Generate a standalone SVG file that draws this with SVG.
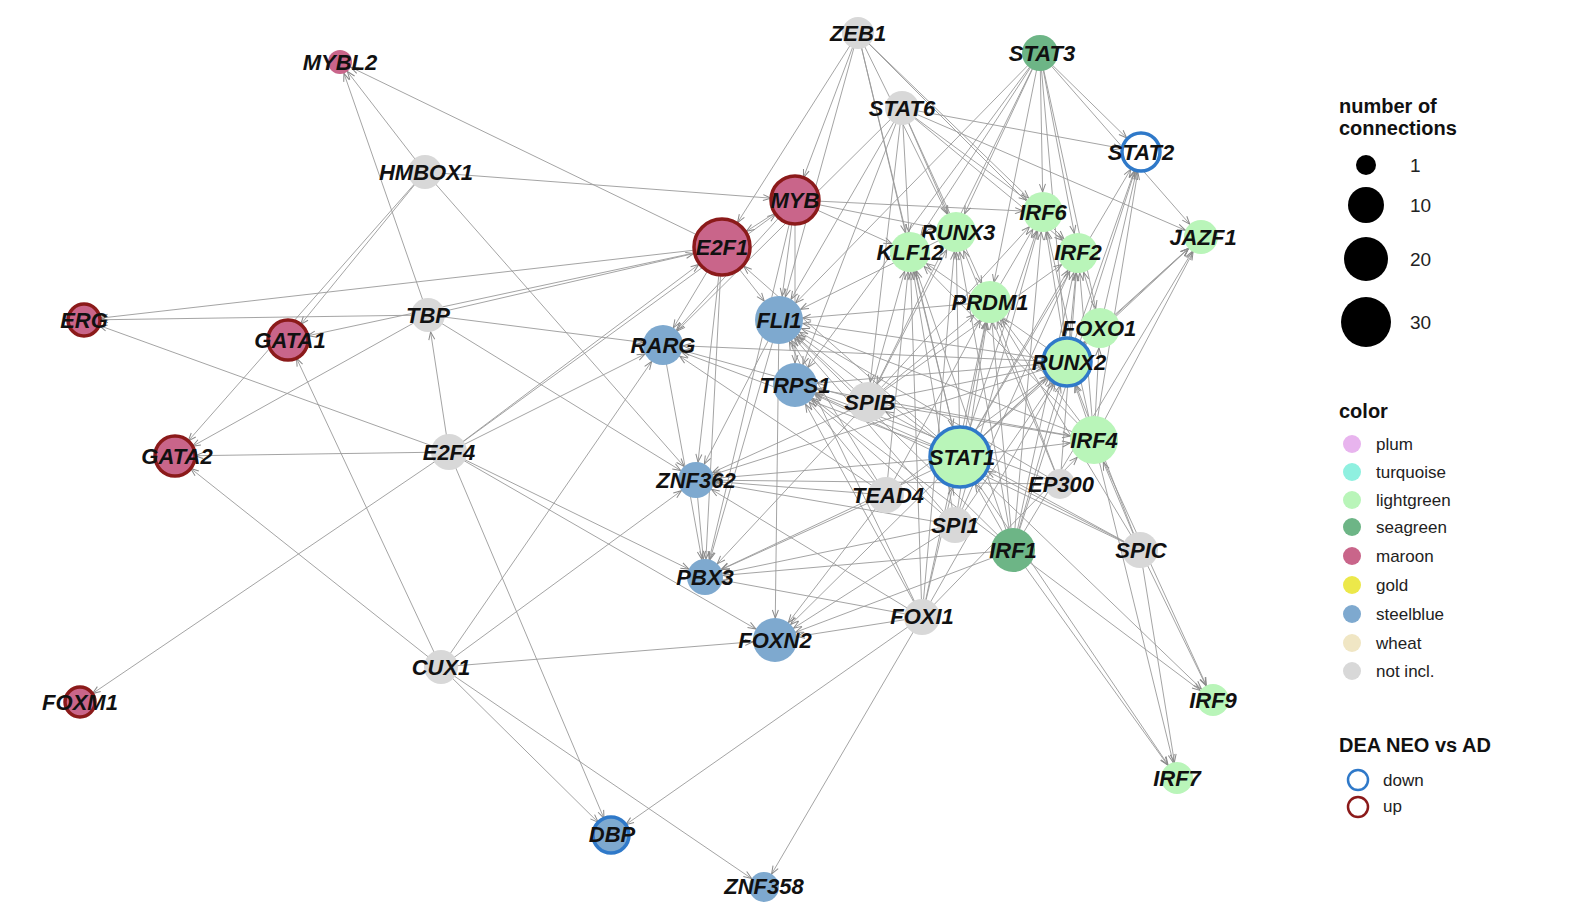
<svg xmlns="http://www.w3.org/2000/svg" width="1589" height="919" viewBox="0 0 1589 919">
<style>
.bg{fill:#fff}
#edges line{stroke:#9a9a9a;stroke-width:0.9;fill:none}
.ah{fill:none;stroke:#8a8a8a;stroke-width:1}
.lab{font-family:"Liberation Sans",Arial,sans-serif;font-weight:bold;font-style:italic;font-size:22px;fill:#111;text-anchor:middle;dominant-baseline:central}
.lg{font-family:"Liberation Sans",Arial,sans-serif;fill:#222}
.lgt{font-family:"Liberation Sans",Arial,sans-serif;font-weight:bold;fill:#111;font-size:20px}
.lgr{fill:#b9f5b9}.sea{fill:#6db586}.mar{fill:#c9658a}.stb{fill:#7ea9cf}.gry{fill:#d8d8d8}
.dn{fill:none;stroke:#2f79c9;stroke-width:3.5}
.up{fill:none;stroke:#8b1a1a;stroke-width:3.5}
</style>
<defs>
<marker id="m12" markerUnits="userSpaceOnUse" refX="12" refY="0" markerWidth="1" markerHeight="1" overflow="visible" orient="auto"><path class="ah" d="M-8,-3 L0,0 L-8,3"/></marker>
<marker id="m15" markerUnits="userSpaceOnUse" refX="15" refY="0" markerWidth="1" markerHeight="1" overflow="visible" orient="auto"><path class="ah" d="M-8,-3 L0,0 L-8,3"/></marker>
<marker id="m16" markerUnits="userSpaceOnUse" refX="16" refY="0" markerWidth="1" markerHeight="1" overflow="visible" orient="auto"><path class="ah" d="M-8,-3 L0,0 L-8,3"/></marker>
<marker id="m17" markerUnits="userSpaceOnUse" refX="17" refY="0" markerWidth="1" markerHeight="1" overflow="visible" orient="auto"><path class="ah" d="M-8,-3 L0,0 L-8,3"/></marker>
<marker id="m18" markerUnits="userSpaceOnUse" refX="18" refY="0" markerWidth="1" markerHeight="1" overflow="visible" orient="auto"><path class="ah" d="M-8,-3 L0,0 L-8,3"/></marker>
<marker id="m20" markerUnits="userSpaceOnUse" refX="20" refY="0" markerWidth="1" markerHeight="1" overflow="visible" orient="auto"><path class="ah" d="M-8,-3 L0,0 L-8,3"/></marker>
<marker id="m22" markerUnits="userSpaceOnUse" refX="22" refY="0" markerWidth="1" markerHeight="1" overflow="visible" orient="auto"><path class="ah" d="M-8,-3 L0,0 L-8,3"/></marker>
<marker id="m24" markerUnits="userSpaceOnUse" refX="24" refY="0" markerWidth="1" markerHeight="1" overflow="visible" orient="auto"><path class="ah" d="M-8,-3 L0,0 L-8,3"/></marker>
<marker id="m28" markerUnits="userSpaceOnUse" refX="29" refY="0" markerWidth="1" markerHeight="1" overflow="visible" orient="auto"><path class="ah" d="M-8,-3 L0,0 L-8,3"/></marker>
<marker id="m30" markerUnits="userSpaceOnUse" refX="31" refY="0" markerWidth="1" markerHeight="1" overflow="visible" orient="auto"><path class="ah" d="M-8,-3 L0,0 L-8,3"/></marker>
</defs>
<rect class="bg" x="0" y="0" width="1589" height="919"/>
<g id="edges">
<!-- HMBOX1 -->
<line x1="425" y1="172" x2="340" y2="62" marker-end="url(#m12)"/>
<line x1="425" y1="172" x2="288" y2="340" marker-end="url(#m20)"/>
<line x1="425" y1="172" x2="795" y2="200" marker-end="url(#m24)"/>
<line x1="425" y1="172" x2="696" y2="480" marker-end="url(#m18)"/>
<line x1="425" y1="172" x2="175" y2="456" marker-end="url(#m20)"/>
<!-- TBP -->
<line x1="428" y1="315" x2="340" y2="62" marker-end="url(#m12)"/>
<line x1="428" y1="315" x2="84" y2="320" marker-end="url(#m16)"/>
<line x1="428" y1="315" x2="175" y2="456" marker-end="url(#m20)"/>
<line x1="428" y1="315" x2="722" y2="247" marker-end="url(#m28)"/>
<line x1="428" y1="315" x2="696" y2="480" marker-end="url(#m18)"/>
<line x1="428" y1="315" x2="663" y2="345" marker-end="url(#m20)"/>
<!-- E2F4 -->
<line x1="449" y1="452" x2="175" y2="456" marker-end="url(#m20)"/>
<line x1="449" y1="452" x2="80" y2="702" marker-end="url(#m15)"/>
<line x1="449" y1="452" x2="722" y2="247" marker-end="url(#m28)"/>
<line x1="449" y1="452" x2="795" y2="200" marker-end="url(#m24)"/>
<line x1="449" y1="452" x2="428" y2="315" marker-end="url(#m17)"/>
<line x1="449" y1="452" x2="705" y2="577" marker-end="url(#m18)"/>
<line x1="449" y1="452" x2="775" y2="640" marker-end="url(#m22)"/>
<line x1="449" y1="452" x2="611" y2="835" marker-end="url(#m18)"/>
<line x1="449" y1="452" x2="663" y2="345" marker-end="url(#m20)"/>
<line x1="449" y1="452" x2="84" y2="320" marker-end="url(#m16)"/>
<!-- CUX1 -->
<line x1="441" y1="667" x2="175" y2="456" marker-end="url(#m20)"/>
<line x1="441" y1="667" x2="288" y2="340" marker-end="url(#m20)"/>
<line x1="441" y1="667" x2="663" y2="345" marker-end="url(#m20)"/>
<line x1="441" y1="667" x2="696" y2="480" marker-end="url(#m18)"/>
<line x1="441" y1="667" x2="775" y2="640" marker-end="url(#m22)"/>
<line x1="441" y1="667" x2="611" y2="835" marker-end="url(#m18)"/>
<line x1="441" y1="667" x2="764" y2="887" marker-end="url(#m15)"/>
<!-- E2F1 -->
<line x1="722" y1="247" x2="340" y2="62" marker-end="url(#m12)"/>
<line x1="722" y1="247" x2="84" y2="320" marker-end="url(#m16)"/>
<line x1="722" y1="247" x2="288" y2="340" marker-end="url(#m20)"/>
<line x1="722" y1="247" x2="663" y2="345" marker-end="url(#m20)"/>
<line x1="722" y1="247" x2="705" y2="577" marker-end="url(#m18)"/>
<line x1="722" y1="247" x2="696" y2="480" marker-end="url(#m18)"/>
<line x1="722" y1="247" x2="779" y2="320" marker-end="url(#m24)"/>
<!-- MYB -->
<line x1="795" y1="200" x2="722" y2="247" marker-end="url(#m28)"/>
<line x1="795" y1="200" x2="779" y2="320" marker-end="url(#m24)"/>
<line x1="795" y1="200" x2="663" y2="345" marker-end="url(#m20)"/>
<line x1="795" y1="200" x2="910" y2="252" marker-end="url(#m20)"/>
<line x1="795" y1="200" x2="956" y2="232" marker-end="url(#m20)"/>
<line x1="795" y1="200" x2="705" y2="577" marker-end="url(#m18)"/>
<line x1="795" y1="200" x2="1043" y2="212" marker-end="url(#m20)"/>
<line x1="795" y1="200" x2="795" y2="385" marker-end="url(#m22)"/>
<!-- ZEB1 -->
<line x1="858" y1="33" x2="795" y2="200" marker-end="url(#m24)"/>
<line x1="858" y1="33" x2="779" y2="320" marker-end="url(#m24)"/>
<line x1="858" y1="33" x2="956" y2="232" marker-end="url(#m20)"/>
<line x1="858" y1="33" x2="1043" y2="212" marker-end="url(#m20)"/>
<line x1="858" y1="33" x2="910" y2="252" marker-end="url(#m20)"/>
<line x1="858" y1="33" x2="1078" y2="253" marker-end="url(#m20)"/>
<line x1="858" y1="33" x2="960" y2="457" marker-end="url(#m30)"/>
<line x1="858" y1="33" x2="722" y2="247" marker-end="url(#m28)"/>
<!-- STAT3 -->
<line x1="1040" y1="53" x2="779" y2="320" marker-end="url(#m24)"/>
<line x1="1040" y1="53" x2="910" y2="252" marker-end="url(#m20)"/>
<line x1="1040" y1="53" x2="956" y2="232" marker-end="url(#m20)"/>
<line x1="1040" y1="53" x2="1043" y2="212" marker-end="url(#m20)"/>
<line x1="1040" y1="53" x2="1078" y2="253" marker-end="url(#m20)"/>
<line x1="1040" y1="53" x2="1141" y2="152" marker-end="url(#m20)"/>
<line x1="1040" y1="53" x2="1201" y2="237" marker-end="url(#m17)"/>
<line x1="1040" y1="53" x2="1100" y2="328" marker-end="url(#m20)"/>
<line x1="1040" y1="53" x2="990" y2="302" marker-end="url(#m20)"/>
<line x1="1040" y1="53" x2="868" y2="402" marker-end="url(#m20)"/>
<line x1="1040" y1="53" x2="1067" y2="362" marker-end="url(#m24)"/>
<line x1="1040" y1="53" x2="795" y2="385" marker-end="url(#m22)"/>
<!-- STAT6 -->
<line x1="902" y1="108" x2="779" y2="320" marker-end="url(#m24)"/>
<line x1="902" y1="108" x2="910" y2="252" marker-end="url(#m20)"/>
<line x1="902" y1="108" x2="956" y2="232" marker-end="url(#m20)"/>
<line x1="902" y1="108" x2="1043" y2="212" marker-end="url(#m20)"/>
<line x1="902" y1="108" x2="1141" y2="152" marker-end="url(#m20)"/>
<line x1="902" y1="108" x2="1201" y2="237" marker-end="url(#m17)"/>
<line x1="902" y1="108" x2="990" y2="302" marker-end="url(#m20)"/>
<line x1="902" y1="108" x2="868" y2="402" marker-end="url(#m20)"/>
<line x1="902" y1="108" x2="795" y2="385" marker-end="url(#m22)"/>
<line x1="902" y1="108" x2="1078" y2="253" marker-end="url(#m20)"/>
<line x1="902" y1="108" x2="663" y2="345" marker-end="url(#m20)"/>
<!-- STAT1 -->
<line x1="960" y1="457" x2="779" y2="320" marker-end="url(#m24)"/>
<line x1="960" y1="457" x2="795" y2="385" marker-end="url(#m22)"/>
<line x1="960" y1="457" x2="663" y2="345" marker-end="url(#m20)"/>
<line x1="960" y1="457" x2="696" y2="480" marker-end="url(#m18)"/>
<line x1="960" y1="457" x2="910" y2="252" marker-end="url(#m20)"/>
<line x1="960" y1="457" x2="956" y2="232" marker-end="url(#m20)"/>
<line x1="960" y1="457" x2="1043" y2="212" marker-end="url(#m20)"/>
<line x1="960" y1="457" x2="1078" y2="253" marker-end="url(#m20)"/>
<line x1="960" y1="457" x2="990" y2="302" marker-end="url(#m20)"/>
<line x1="960" y1="457" x2="1100" y2="328" marker-end="url(#m20)"/>
<line x1="960" y1="457" x2="1067" y2="362" marker-end="url(#m24)"/>
<line x1="960" y1="457" x2="1141" y2="152" marker-end="url(#m20)"/>
<line x1="960" y1="457" x2="1201" y2="237" marker-end="url(#m17)"/>
<line x1="960" y1="457" x2="1094" y2="440" marker-end="url(#m24)"/>
<line x1="960" y1="457" x2="705" y2="577" marker-end="url(#m18)"/>
<line x1="960" y1="457" x2="775" y2="640" marker-end="url(#m22)"/>
<line x1="960" y1="457" x2="1213" y2="700" marker-end="url(#m16)"/>
<line x1="960" y1="457" x2="1177" y2="778" marker-end="url(#m16)"/>
<line x1="960" y1="457" x2="722" y2="247" marker-end="url(#m28)"/>
<!-- IRF1 -->
<line x1="1013" y1="550" x2="779" y2="320" marker-end="url(#m24)"/>
<line x1="1013" y1="550" x2="795" y2="385" marker-end="url(#m22)"/>
<line x1="1013" y1="550" x2="910" y2="252" marker-end="url(#m20)"/>
<line x1="1013" y1="550" x2="956" y2="232" marker-end="url(#m20)"/>
<line x1="1013" y1="550" x2="1043" y2="212" marker-end="url(#m20)"/>
<line x1="1013" y1="550" x2="1078" y2="253" marker-end="url(#m20)"/>
<line x1="1013" y1="550" x2="990" y2="302" marker-end="url(#m20)"/>
<line x1="1013" y1="550" x2="1067" y2="362" marker-end="url(#m24)"/>
<line x1="1013" y1="550" x2="960" y2="457" marker-end="url(#m30)"/>
<line x1="1013" y1="550" x2="1213" y2="700" marker-end="url(#m16)"/>
<line x1="1013" y1="550" x2="1177" y2="778" marker-end="url(#m16)"/>
<line x1="1013" y1="550" x2="775" y2="640" marker-end="url(#m22)"/>
<line x1="1013" y1="550" x2="705" y2="577" marker-end="url(#m18)"/>
<line x1="1013" y1="550" x2="1201" y2="237" marker-end="url(#m17)"/>
<line x1="1013" y1="550" x2="1141" y2="152" marker-end="url(#m20)"/>
<!-- RUNX2 -->
<line x1="1067" y1="362" x2="779" y2="320" marker-end="url(#m24)"/>
<line x1="1067" y1="362" x2="795" y2="385" marker-end="url(#m22)"/>
<line x1="1067" y1="362" x2="663" y2="345" marker-end="url(#m20)"/>
<line x1="1067" y1="362" x2="910" y2="252" marker-end="url(#m20)"/>
<line x1="1067" y1="362" x2="1043" y2="212" marker-end="url(#m20)"/>
<line x1="1067" y1="362" x2="1141" y2="152" marker-end="url(#m20)"/>
<line x1="1067" y1="362" x2="1201" y2="237" marker-end="url(#m17)"/>
<line x1="1067" y1="362" x2="1078" y2="253" marker-end="url(#m20)"/>
<line x1="1067" y1="362" x2="696" y2="480" marker-end="url(#m18)"/>
<!-- IRF4 -->
<line x1="1094" y1="440" x2="1067" y2="362" marker-end="url(#m24)"/>
<line x1="1094" y1="440" x2="1043" y2="212" marker-end="url(#m20)"/>
<line x1="1094" y1="440" x2="1078" y2="253" marker-end="url(#m20)"/>
<line x1="1094" y1="440" x2="990" y2="302" marker-end="url(#m20)"/>
<line x1="1094" y1="440" x2="910" y2="252" marker-end="url(#m20)"/>
<line x1="1094" y1="440" x2="1141" y2="152" marker-end="url(#m20)"/>
<line x1="1094" y1="440" x2="1201" y2="237" marker-end="url(#m17)"/>
<line x1="1094" y1="440" x2="1100" y2="328" marker-end="url(#m20)"/>
<line x1="1094" y1="440" x2="795" y2="385" marker-end="url(#m22)"/>
<line x1="1094" y1="440" x2="1213" y2="700" marker-end="url(#m16)"/>
<line x1="1094" y1="440" x2="1177" y2="778" marker-end="url(#m16)"/>
<line x1="1094" y1="440" x2="779" y2="320" marker-end="url(#m24)"/>
<!-- SPIB -->
<line x1="868" y1="402" x2="779" y2="320" marker-end="url(#m24)"/>
<line x1="868" y1="402" x2="663" y2="345" marker-end="url(#m20)"/>
<line x1="868" y1="402" x2="910" y2="252" marker-end="url(#m20)"/>
<line x1="868" y1="402" x2="956" y2="232" marker-end="url(#m20)"/>
<line x1="868" y1="402" x2="990" y2="302" marker-end="url(#m20)"/>
<line x1="868" y1="402" x2="1067" y2="362" marker-end="url(#m24)"/>
<line x1="868" y1="402" x2="1094" y2="440" marker-end="url(#m24)"/>
<line x1="868" y1="402" x2="696" y2="480" marker-end="url(#m18)"/>
<line x1="868" y1="402" x2="705" y2="577" marker-end="url(#m18)"/>
<line x1="868" y1="402" x2="1078" y2="253" marker-end="url(#m20)"/>
<line x1="868" y1="402" x2="1043" y2="212" marker-end="url(#m20)"/>
<!-- TEAD4 -->
<line x1="886" y1="495" x2="779" y2="320" marker-end="url(#m24)"/>
<line x1="886" y1="495" x2="795" y2="385" marker-end="url(#m22)"/>
<line x1="886" y1="495" x2="663" y2="345" marker-end="url(#m20)"/>
<line x1="886" y1="495" x2="990" y2="302" marker-end="url(#m20)"/>
<line x1="886" y1="495" x2="1067" y2="362" marker-end="url(#m24)"/>
<line x1="886" y1="495" x2="705" y2="577" marker-end="url(#m18)"/>
<line x1="886" y1="495" x2="696" y2="480" marker-end="url(#m18)"/>
<line x1="886" y1="495" x2="775" y2="640" marker-end="url(#m22)"/>
<line x1="886" y1="495" x2="910" y2="252" marker-end="url(#m20)"/>
<!-- SPI1 -->
<line x1="955" y1="525" x2="779" y2="320" marker-end="url(#m24)"/>
<line x1="955" y1="525" x2="795" y2="385" marker-end="url(#m22)"/>
<line x1="955" y1="525" x2="910" y2="252" marker-end="url(#m20)"/>
<line x1="955" y1="525" x2="990" y2="302" marker-end="url(#m20)"/>
<line x1="955" y1="525" x2="1067" y2="362" marker-end="url(#m24)"/>
<line x1="955" y1="525" x2="1078" y2="253" marker-end="url(#m20)"/>
<line x1="955" y1="525" x2="705" y2="577" marker-end="url(#m18)"/>
<line x1="955" y1="525" x2="775" y2="640" marker-end="url(#m22)"/>
<line x1="955" y1="525" x2="1043" y2="212" marker-end="url(#m20)"/>
<line x1="955" y1="525" x2="696" y2="480" marker-end="url(#m18)"/>
<!-- SPIC -->
<line x1="1140" y1="550" x2="1067" y2="362" marker-end="url(#m24)"/>
<line x1="1140" y1="550" x2="1094" y2="440" marker-end="url(#m24)"/>
<line x1="1140" y1="550" x2="990" y2="302" marker-end="url(#m20)"/>
<line x1="1140" y1="550" x2="795" y2="385" marker-end="url(#m22)"/>
<line x1="1140" y1="550" x2="1213" y2="700" marker-end="url(#m16)"/>
<line x1="1140" y1="550" x2="1177" y2="778" marker-end="url(#m16)"/>
<line x1="1140" y1="550" x2="960" y2="457" marker-end="url(#m30)"/>
<line x1="1140" y1="550" x2="868" y2="402" marker-end="url(#m20)"/>
<!-- EP300 -->
<line x1="1060" y1="484" x2="795" y2="385" marker-end="url(#m22)"/>
<line x1="1060" y1="484" x2="779" y2="320" marker-end="url(#m24)"/>
<line x1="1060" y1="484" x2="990" y2="302" marker-end="url(#m20)"/>
<line x1="1060" y1="484" x2="1078" y2="253" marker-end="url(#m20)"/>
<line x1="1060" y1="484" x2="696" y2="480" marker-end="url(#m18)"/>
<line x1="1060" y1="484" x2="956" y2="232" marker-end="url(#m20)"/>
<!-- FOXI1 -->
<line x1="922" y1="617" x2="779" y2="320" marker-end="url(#m24)"/>
<line x1="922" y1="617" x2="795" y2="385" marker-end="url(#m22)"/>
<line x1="922" y1="617" x2="956" y2="232" marker-end="url(#m20)"/>
<line x1="922" y1="617" x2="910" y2="252" marker-end="url(#m20)"/>
<line x1="922" y1="617" x2="990" y2="302" marker-end="url(#m20)"/>
<line x1="922" y1="617" x2="1067" y2="362" marker-end="url(#m24)"/>
<line x1="922" y1="617" x2="960" y2="457" marker-end="url(#m30)"/>
<line x1="922" y1="617" x2="1094" y2="440" marker-end="url(#m24)"/>
<line x1="922" y1="617" x2="705" y2="577" marker-end="url(#m18)"/>
<line x1="922" y1="617" x2="775" y2="640" marker-end="url(#m22)"/>
<line x1="922" y1="617" x2="611" y2="835" marker-end="url(#m18)"/>
<line x1="922" y1="617" x2="764" y2="887" marker-end="url(#m15)"/>
<line x1="922" y1="617" x2="696" y2="480" marker-end="url(#m18)"/>
<!-- misc -->
<line x1="1100" y1="328" x2="1201" y2="237" marker-end="url(#m17)"/>
<line x1="1100" y1="328" x2="1141" y2="152" marker-end="url(#m20)"/>
<line x1="1100" y1="328" x2="1078" y2="253" marker-end="url(#m20)"/>
<line x1="990" y1="302" x2="1043" y2="212" marker-end="url(#m20)"/>
<line x1="990" y1="302" x2="779" y2="320" marker-end="url(#m24)"/>
<line x1="956" y1="232" x2="779" y2="320" marker-end="url(#m24)"/>
<line x1="779" y1="320" x2="705" y2="577" marker-end="url(#m18)"/>
<line x1="779" y1="320" x2="775" y2="640" marker-end="url(#m22)"/>
<line x1="779" y1="320" x2="696" y2="480" marker-end="url(#m18)"/>
<line x1="696" y1="480" x2="705" y2="577" marker-end="url(#m18)"/>
<line x1="663" y1="345" x2="705" y2="577" marker-end="url(#m18)"/>
</g>
<g id="n-MYBL2"><circle class="mar" cx="340" cy="62" r="12"/><text class="lab" x="340" y="62">MYBL2</text></g>
<g id="n-HMBOX1"><circle class="gry" cx="425" cy="172" r="17"/><text class="lab" x="426" y="172">HMBOX1</text></g>
<g id="n-ZEB1"><circle class="gry" cx="858" cy="33" r="16"/><text class="lab" x="858" y="33">ZEB1</text></g>
<g id="n-STAT3"><circle class="sea" cx="1040" cy="53" r="18"/><text class="lab" x="1042" y="53">STAT3</text></g>
<g id="n-STAT6"><circle class="gry" cx="902" cy="108" r="17"/><text class="lab" x="902" y="108">STAT6</text></g>
<g id="n-STAT2"><circle fill="#fff" cx="1141" cy="152" r="19"/><circle class="dn" cx="1141" cy="152" r="19"/><text class="lab" x="1141" y="152">STAT2</text></g>
<g id="n-MYB"><circle class="mar" cx="795" cy="200" r="23"/><circle class="up" cx="795" cy="200" r="24"/><text class="lab" x="795" y="200">MYB</text></g>
<g id="n-E2F1"><circle class="mar" cx="722" cy="247" r="27"/><circle class="up" cx="722" cy="247" r="28"/><text class="lab" x="722" y="247">E2F1</text></g>
<g id="n-RUNX3"><circle class="lgr" cx="956" cy="232" r="20"/><text class="lab" x="958" y="232">RUNX3</text></g>
<g id="n-KLF12"><circle class="lgr" cx="910" cy="252" r="20"/><text class="lab" x="910" y="252">KLF12</text></g>
<g id="n-IRF6"><circle class="lgr" cx="1043" cy="212" r="20"/><text class="lab" x="1043" y="212">IRF6</text></g>
<g id="n-IRF2"><circle class="lgr" cx="1078" cy="253" r="20"/><text class="lab" x="1078" y="252">IRF2</text></g>
<g id="n-JAZF1"><circle class="lgr" cx="1201" cy="237" r="17"/><text class="lab" x="1203" y="237">JAZF1</text></g>
<g id="n-PRDM1"><circle class="lgr" cx="990" cy="302" r="21"/><text class="lab" x="990" y="302">PRDM1</text></g>
<g id="n-FOXO1"><circle class="lgr" cx="1100" cy="328" r="20"/><text class="lab" x="1099" y="328">FOXO1</text></g>
<g id="n-RUNX2"><circle class="lgr" cx="1067" cy="362" r="23"/><circle class="dn" cx="1067" cy="362" r="24"/><text class="lab" x="1069" y="362">RUNX2</text></g>
<g id="n-FLI1"><circle class="stb" cx="779" cy="320" r="24"/><text class="lab" x="779" y="320">FLI1</text></g>
<g id="n-RARG"><circle class="stb" cx="663" cy="345" r="20"/><text class="lab" x="663" y="345">RARG</text></g>
<g id="n-TBP"><circle class="gry" cx="428" cy="315" r="17"/><text class="lab" x="428" y="315">TBP</text></g>
<g id="n-ERG"><circle class="mar" cx="84" cy="320" r="15"/><circle class="up" cx="84" cy="320" r="16"/><text class="lab" x="84" y="320">ERG</text></g>
<g id="n-GATA1"><circle class="mar" cx="288" cy="340" r="19"/><circle class="up" cx="288" cy="340" r="20"/><text class="lab" x="290" y="340">GATA1</text></g>
<g id="n-GATA2"><circle class="mar" cx="175" cy="456" r="19"/><circle class="up" cx="175" cy="456" r="20"/><text class="lab" x="177" y="456">GATA2</text></g>
<g id="n-E2F4"><circle class="gry" cx="449" cy="452" r="18"/><text class="lab" x="449" y="452">E2F4</text></g>
<g id="n-TRPS1"><circle class="stb" cx="795" cy="385" r="22"/><text class="lab" x="795" y="385">TRPS1</text></g>
<g id="n-SPIB"><circle class="gry" cx="868" cy="402" r="20"/><text class="lab" x="870" y="402">SPIB</text></g>
<g id="n-STAT1"><circle class="lgr" cx="960" cy="457" r="29"/><circle class="dn" cx="960" cy="457" r="30"/><text class="lab" x="962" y="457">STAT1</text></g>
<g id="n-IRF4"><circle class="lgr" cx="1094" cy="440" r="24"/><text class="lab" x="1094" y="440">IRF4</text></g>
<g id="n-ZNF362"><circle class="stb" cx="696" cy="480" r="18"/><text class="lab" x="696" y="480">ZNF362</text></g>
<g id="n-TEAD4"><circle class="gry" cx="886" cy="495" r="18"/><text class="lab" x="888" y="495">TEAD4</text></g>
<g id="n-EP300"><circle class="gry" cx="1060" cy="484" r="15"/><text class="lab" x="1061" y="484">EP300</text></g>
<g id="n-SPI1"><circle class="gry" cx="955" cy="525" r="18"/><text class="lab" x="955" y="525">SPI1</text></g>
<g id="n-IRF1"><circle class="sea" cx="1013" cy="550" r="22"/><text class="lab" x="1013" y="550">IRF1</text></g>
<g id="n-SPIC"><circle class="gry" cx="1140" cy="550" r="18"/><text class="lab" x="1141" y="550">SPIC</text></g>
<g id="n-PBX3"><circle class="stb" cx="705" cy="577" r="18"/><text class="lab" x="705" y="577">PBX3</text></g>
<g id="n-FOXI1"><circle class="gry" cx="922" cy="617" r="18"/><text class="lab" x="922" y="616">FOXI1</text></g>
<g id="n-FOXN2"><circle class="stb" cx="775" cy="640" r="22"/><text class="lab" x="775" y="640">FOXN2</text></g>
<g id="n-CUX1"><circle class="gry" cx="441" cy="667" r="17"/><text class="lab" x="441" y="667">CUX1</text></g>
<g id="n-FOXM1"><circle class="mar" cx="80" cy="702" r="14"/><circle class="up" cx="80" cy="702" r="15"/><text class="lab" x="80" y="702">FOXM1</text></g>
<g id="n-IRF9"><circle class="lgr" cx="1213" cy="700" r="16"/><text class="lab" x="1213" y="700">IRF9</text></g>
<g id="n-IRF7"><circle class="lgr" cx="1177" cy="778" r="16"/><text class="lab" x="1177" y="778">IRF7</text></g>
<g id="n-DBP"><circle class="stb" cx="611" cy="835" r="17"/><circle class="dn" cx="611" cy="835" r="18"/><text class="lab" x="612" y="834">DBP</text></g>
<g id="n-ZNF358"><circle class="stb" cx="764" cy="887" r="15"/><text class="lab" x="764" y="886">ZNF358</text></g>
<g id="legend">
<text class="lgt" x="1339" y="113">number of</text>
<text class="lgt" x="1339" y="135">connections</text>
<circle cx="1366" cy="165" r="10" fill="#000"/><text class="lg" x="1410" y="172" font-size="19">1</text>
<circle cx="1366" cy="205" r="18" fill="#000"/><text class="lg" x="1410" y="212" font-size="19">10</text>
<circle cx="1366" cy="259" r="22" fill="#000"/><text class="lg" x="1410" y="266" font-size="19">20</text>
<circle cx="1366" cy="322" r="25" fill="#000"/><text class="lg" x="1410" y="329" font-size="19">30</text>
<text class="lgt" x="1339" y="418">color</text>
<g font-size="17">
<circle cx="1352" cy="444" r="9" fill="#e8b4ee"/><text class="lg" x="1376" y="450">plum</text>
<circle cx="1352" cy="472" r="9" fill="#8ff0e0"/><text class="lg" x="1376" y="478">turquoise</text>
<circle cx="1352" cy="500" r="9" fill="#b9f5b9"/><text class="lg" x="1376" y="506">lightgreen</text>
<circle cx="1352" cy="527" r="9" fill="#6db586"/><text class="lg" x="1376" y="533">seagreen</text>
<circle cx="1352" cy="556" r="9" fill="#c9658a"/><text class="lg" x="1376" y="562">maroon</text>
<circle cx="1352" cy="585" r="9" fill="#ece84a"/><text class="lg" x="1376" y="591">gold</text>
<circle cx="1352" cy="614" r="9" fill="#7ea9cf"/><text class="lg" x="1376" y="620">steelblue</text>
<circle cx="1352" cy="643" r="9" fill="#f0e6c4"/><text class="lg" x="1376" y="649">wheat</text>
<circle cx="1352" cy="671" r="9" fill="#d8d8d8"/><text class="lg" x="1376" y="677">not incl.</text>
</g>
<text class="lgt" x="1339" y="752">DEA NEO vs AD</text>
<circle cx="1358" cy="780" r="10" fill="none" stroke="#2f79c9" stroke-width="2.5"/><text class="lg" x="1383" y="786" font-size="17">down</text>
<circle cx="1358" cy="807" r="10" fill="none" stroke="#8b1a1a" stroke-width="2.5"/><text class="lg" x="1383" y="812" font-size="17">up</text>
</g>
</svg>
